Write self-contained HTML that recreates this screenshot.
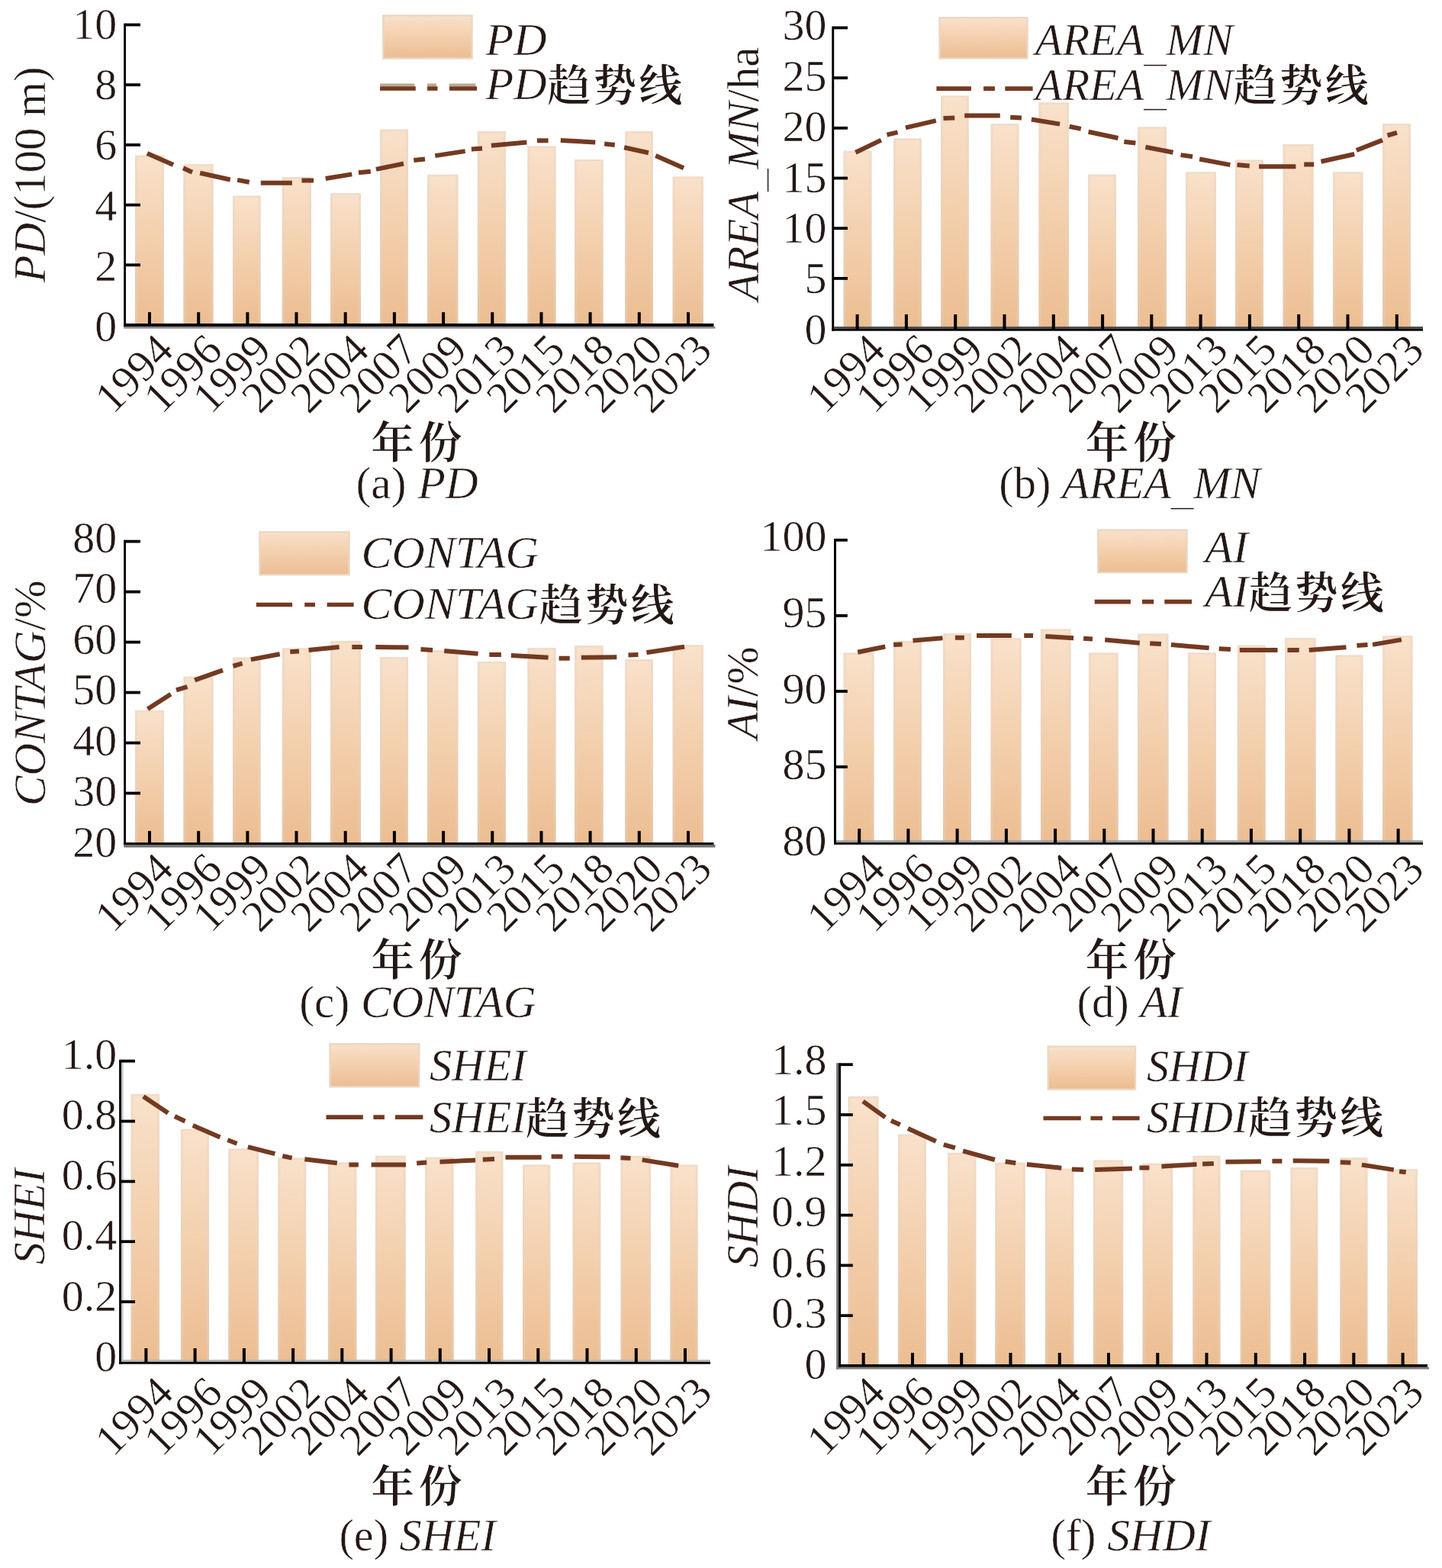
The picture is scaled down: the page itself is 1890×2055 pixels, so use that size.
<!DOCTYPE html>
<html lang="zh-CN"><head><meta charset="utf-8"><title>景观格局指数变化趋势</title>
<style>
html,body{margin:0;padding:0;background:#fff;}
body{width:1890px;height:2055px;overflow:hidden;}
svg{display:block;}
text{font-family:"Liberation Serif","Noto Serif CJK SC",serif;font-size:58px;fill:#231815;stroke:#fff;stroke-width:0.5px;stroke-linejoin:round;}
.it{font-style:italic;}
.us{font-size:30px;font-style:normal;stroke:none;}
.leg,.ytitle,.cap{font-size:60px;}
.cjk{font-family:"Noto Serif CJK SC","Liberation Serif",serif;font-weight:600;stroke:none;font-size:56.5px;font-style:normal;letter-spacing:3.5px;}
.cjk.xtitle{letter-spacing:6px;}
.ylab text{text-anchor:end;}
.xlab text{text-anchor:end;}
.ytitle,.xtitle,.cap{text-anchor:middle;}
.bo{fill:url(#barb);}
.bi{fill:url(#bar);}
.swatch{fill:url(#bar);stroke:#ead7c4;stroke-width:2.4;}
.axis rect{fill:#000000;}
.trend{fill:none;stroke:#733a21;stroke-width:6;stroke-linecap:butt;}
.trend.leg{stroke-width:5.7;}
.trend.fr{stroke:#b9a98f;stroke-width:3.6;}
</style></head><body>
<svg width="1890" height="2055" viewBox="0 0 1890 2055" role="img" aria-label="景观格局指数变化趋势">
<defs><linearGradient id="bar" x1="0" y1="0" x2="0" y2="1"><stop offset="0" stop-color="#f9e1ca"/><stop offset="0.5" stop-color="#f3cfac"/><stop offset="1" stop-color="#ecbd92"/></linearGradient><linearGradient id="barb" x1="0" y1="0" x2="0" y2="1"><stop offset="0" stop-color="#f1dcc9"/><stop offset="0.5" stop-color="#ecd2b8"/><stop offset="1" stop-color="#e6c5a4"/></linearGradient></defs>
<rect width="1890" height="2055" fill="#ffffff"/>
<g class="panel" id="panel-a">
<g class="bars">
<rect class="bo" x="177" y="203.4" width="38" height="221.6"/>
<rect class="bi" x="180.2" y="206" width="31.6" height="219"/>
<rect class="bo" x="240.3" y="215" width="39.4" height="210"/>
<rect class="bi" x="243.5" y="217.6" width="33" height="207.4"/>
<rect class="bo" x="305" y="256.4" width="36.7" height="168.6"/>
<rect class="bi" x="308.2" y="259" width="30.3" height="166"/>
<rect class="bo" x="369.7" y="232" width="38.3" height="193"/>
<rect class="bi" x="372.9" y="234.6" width="31.9" height="190.4"/>
<rect class="bo" x="433" y="253" width="40" height="172"/>
<rect class="bi" x="436.2" y="255.6" width="33.6" height="169.4"/>
<rect class="bo" x="498" y="169.4" width="37" height="255.6"/>
<rect class="bi" x="501.2" y="172" width="30.6" height="253"/>
<rect class="bo" x="560" y="228.6" width="40.6" height="196.4"/>
<rect class="bi" x="563.2" y="231.2" width="34.2" height="193.8"/>
<rect class="bo" x="625.8" y="172" width="37.2" height="253"/>
<rect class="bi" x="629" y="174.6" width="30.8" height="250.4"/>
<rect class="bo" x="691.3" y="191.4" width="37.4" height="233.6"/>
<rect class="bi" x="694.5" y="194" width="31" height="231"/>
<rect class="bo" x="753" y="209" width="37.8" height="216"/>
<rect class="bi" x="756.2" y="211.6" width="31.4" height="213.4"/>
<rect class="bo" x="819.2" y="172" width="36.8" height="253"/>
<rect class="bi" x="822.4" y="174.6" width="30.4" height="250.4"/>
<rect class="bo" x="881.5" y="231.2" width="40.5" height="193.8"/>
<rect class="bi" x="884.7" y="233.8" width="34.1" height="191.2"/>
</g>
<g class="axis">
<rect x="162.2" y="427.9" width="775.3" height="2.7" style="fill:#8a8a8a"/>
<rect x="162.2" y="30.6" width="2.8" height="397.3"/>
<rect x="162.2" y="424" width="773.3" height="3.9"/>
<rect x="164.5" y="345.4" width="19.5" height="3.8"/>
<rect x="164.5" y="266.7" width="19.5" height="3.8"/>
<rect x="164.5" y="188" width="19.5" height="3.8"/>
<rect x="164.5" y="109.3" width="19.5" height="3.8"/>
<rect x="164.5" y="30.6" width="19.5" height="3.8"/>
<rect x="194" y="409.2" width="4" height="15.3"/>
<rect x="258.2" y="409.2" width="4" height="15.3"/>
<rect x="322.4" y="409.2" width="4" height="15.3"/>
<rect x="386.5" y="409.2" width="4" height="15.3"/>
<rect x="450.7" y="409.2" width="4" height="15.3"/>
<rect x="514.9" y="409.2" width="4" height="15.3"/>
<rect x="579.1" y="409.2" width="4" height="15.3"/>
<rect x="643.3" y="409.2" width="4" height="15.3"/>
<rect x="707.5" y="409.2" width="4" height="15.3"/>
<rect x="771.6" y="409.2" width="4" height="15.3"/>
<rect x="835.8" y="409.2" width="4" height="15.3"/>
<rect x="900" y="409.2" width="4" height="15.3"/>
</g>
<path class="trend" d="M192.9 200.9L227.1 216 M240.1 220.3L252 225.8 M262.2 226.8L301.8 235.5 M311.1 235.9L326.7 238.7 M341.8 239.8L382.9 239.8 M395.5 236.6L411.1 236.6 M426.7 234L461.3 228.4 M470 226.2L485.8 224.7 M492.9 221.9L529 214.5 M542.3 210L557 208.4 M570.3 204.1L609.7 198.1 M617.9 195.5L632 194.4 M643.9 190.7L690.4 186.4 M703.9 184.2L718.6 184.2 M734.8 184L780.3 186.4 M792.2 188.5L805.8 190 M818.1 193.3L850 200.2 M859.3 204.1L896.1 220.3"/>
<g class="ylab">
<text x="153.3" y="447">0</text>
<text x="153.3" y="367.8">2</text>
<text x="153.3" y="288.6">4</text>
<text x="153.3" y="209.4">6</text>
<text x="153.3" y="130.2">8</text>
<text x="153.3" y="51">10</text>
</g>
<g class="xlab">
<text transform="translate(229.9 462) rotate(-45)">1994</text>
<text transform="translate(294.1 462) rotate(-45)">1996</text>
<text transform="translate(358.2 462) rotate(-45)">1999</text>
<text transform="translate(422.4 462) rotate(-45)">2002</text>
<text transform="translate(486.6 462) rotate(-45)">2004</text>
<text transform="translate(550.8 462) rotate(-45)">2007</text>
<text transform="translate(614.9 462) rotate(-45)">2009</text>
<text transform="translate(679.1 462) rotate(-45)">2013</text>
<text transform="translate(743.3 462) rotate(-45)">2015</text>
<text transform="translate(807.4 462) rotate(-45)">2018</text>
<text transform="translate(871.6 462) rotate(-45)">2020</text>
<text transform="translate(935.8 462) rotate(-45)">2023</text>
</g>
<text class="ytitle" transform="translate(59 229) rotate(-90) scale(0.9820 1)"><tspan class="it">PD</tspan><tspan>/(100 m)</tspan></text>
<text class="cjk xtitle" x="548.9" y="599.6">年份</text>
<text class="cap" x="546.6" y="653.4" xml:space="preserve"><tspan textLength="80.9" lengthAdjust="spacingAndGlyphs">(a) </tspan><tspan class="it" textLength="79.3" lengthAdjust="spacingAndGlyphs">PD</tspan></text>
<rect class="swatch" x="502.3" y="20.5" width="116.3" height="56"/>
<path class="trend fr" d="M498 111.4H543.3 M560 111.4H572 M589 111.4H623.5"/>
<path class="trend leg" d="M498 116H544.8 M560 116H573.5 M589 116H625"/>
<text class="leg" x="636.5" y="71.7"><tspan class="it" textLength="80" lengthAdjust="spacingAndGlyphs">PD</tspan></text>
<text class="leg" x="636.5" y="129.8"><tspan class="it" textLength="80" lengthAdjust="spacingAndGlyphs">PD</tspan><tspan class="cjk" dx="1" dy="1.8">趋势线</tspan></text>
</g>
<g class="panel" id="panel-b">
<g class="bars">
<rect class="bo" x="1105.5" y="197.6" width="37.1" height="234.2"/>
<rect class="bi" x="1108.7" y="200.2" width="30.7" height="231.6"/>
<rect class="bo" x="1171" y="181.2" width="37" height="250.6"/>
<rect class="bi" x="1174.2" y="183.8" width="30.6" height="248"/>
<rect class="bo" x="1233" y="125.3" width="36.9" height="306.5"/>
<rect class="bi" x="1236.2" y="127.9" width="30.5" height="303.9"/>
<rect class="bo" x="1298.4" y="162.1" width="37.2" height="269.7"/>
<rect class="bi" x="1301.6" y="164.7" width="30.8" height="267.1"/>
<rect class="bo" x="1361.3" y="134.2" width="39.7" height="297.6"/>
<rect class="bi" x="1364.5" y="136.8" width="33.3" height="295"/>
<rect class="bo" x="1426" y="228.5" width="37" height="203.3"/>
<rect class="bi" x="1429.2" y="231.1" width="30.6" height="200.7"/>
<rect class="bo" x="1491" y="166.3" width="38" height="265.5"/>
<rect class="bi" x="1494.2" y="168.9" width="31.6" height="262.9"/>
<rect class="bo" x="1554" y="225.3" width="40" height="206.5"/>
<rect class="bi" x="1557.2" y="227.9" width="33.6" height="203.9"/>
<rect class="bo" x="1619" y="209.4" width="37" height="222.4"/>
<rect class="bi" x="1622.2" y="212" width="30.6" height="219.8"/>
<rect class="bo" x="1681.4" y="189" width="40.3" height="242.8"/>
<rect class="bi" x="1684.6" y="191.6" width="33.9" height="240.2"/>
<rect class="bo" x="1747" y="225.3" width="39.6" height="206.5"/>
<rect class="bi" x="1750.2" y="227.9" width="33.2" height="203.9"/>
<rect class="bo" x="1812" y="162.1" width="37" height="269.7"/>
<rect class="bi" x="1815.2" y="164.7" width="30.6" height="267.1"/>
</g>
<g class="axis">
<rect x="1093.2" y="428" width="771.8" height="2.8" style="fill:#4d4d4d"/>
<rect x="1090.3" y="34.5" width="2.9" height="399.2"/>
<rect x="1090.3" y="430.8" width="774.7" height="2.9"/>
<rect x="1092.7" y="363" width="18.3" height="3.8"/>
<rect x="1092.7" y="297.3" width="18.3" height="3.8"/>
<rect x="1092.7" y="231.6" width="18.3" height="3.8"/>
<rect x="1092.7" y="165.9" width="18.3" height="3.8"/>
<rect x="1092.7" y="100.2" width="18.3" height="3.8"/>
<rect x="1092.7" y="34.5" width="18.3" height="3.8"/>
<rect x="1121.6" y="412" width="4" height="19.3"/>
<rect x="1185.9" y="412" width="4" height="19.3"/>
<rect x="1250.2" y="412" width="4" height="19.3"/>
<rect x="1314.5" y="412" width="4" height="19.3"/>
<rect x="1378.8" y="412" width="4" height="19.3"/>
<rect x="1443.1" y="412" width="4" height="19.3"/>
<rect x="1507.3" y="412" width="4" height="19.3"/>
<rect x="1571.6" y="412" width="4" height="19.3"/>
<rect x="1635.9" y="412" width="4" height="19.3"/>
<rect x="1700.2" y="412" width="4" height="19.3"/>
<rect x="1764.5" y="412" width="4" height="19.3"/>
<rect x="1828.8" y="412" width="4" height="19.3"/>
</g>
<path class="trend" d="M1121.4 199.8L1154.9 183.6 M1162.5 176.7L1176.6 173.4 M1187 167.4L1226.8 158.1 M1236.5 155L1251.3 154.4 M1264.2 151.6L1310.8 151.6 M1324.2 153.7L1338.9 154.4 M1351.9 156.5L1389.1 162.6 M1401.7 165.8L1416.8 168.9 M1426.6 172.8L1465.5 181 M1473.3 185.8L1488.4 187.5 M1501.4 192.7L1537.5 199.8 M1547.5 203.1L1563.1 205.2 M1572.2 208.5L1612.4 216.1 M1621.5 216.1L1637.7 217.6 M1650.1 218.2L1698.4 218.2 M1709.2 215.6L1722.2 215.6 M1731.5 211.7L1775.2 202 M1777.8 197L1812 183.6 M1818.5 177.5L1831 173.9"/>
<g class="ylab">
<text x="1083.6" y="450.8">0</text>
<text x="1083.6" y="384.4">5</text>
<text x="1083.6" y="318">10</text>
<text x="1083.6" y="251.6">15</text>
<text x="1083.6" y="185.1">20</text>
<text x="1083.6" y="118.7">25</text>
<text x="1083.6" y="52.3">30</text>
</g>
<g class="xlab">
<text transform="translate(1163.1 462) rotate(-45)">1994</text>
<text transform="translate(1227.3 462) rotate(-45)">1996</text>
<text transform="translate(1291.4 462) rotate(-45)">1999</text>
<text transform="translate(1355.6 462) rotate(-45)">2002</text>
<text transform="translate(1419.8 462) rotate(-45)">2004</text>
<text transform="translate(1483.9 462) rotate(-45)">2007</text>
<text transform="translate(1548.1 462) rotate(-45)">2009</text>
<text transform="translate(1612.3 462) rotate(-45)">2013</text>
<text transform="translate(1676.5 462) rotate(-45)">2015</text>
<text transform="translate(1740.6 462) rotate(-45)">2018</text>
<text transform="translate(1804.8 462) rotate(-45)">2020</text>
<text transform="translate(1869 462) rotate(-45)">2023</text>
</g>
<text class="ytitle" transform="translate(993.7 228) rotate(-90) scale(0.9788 1)"><tspan class="it">AREA</tspan><tspan class="us" dy="10.5" textLength="30" lengthAdjust="spacingAndGlyphs">_</tspan><tspan class="it" dy="-10.5">MN</tspan><tspan>/ha</tspan></text>
<text class="cjk xtitle" x="1485.2" y="599.6">年份</text>
<text class="cap" x="1480.7" y="653.1" xml:space="preserve"><tspan textLength="82.8" lengthAdjust="spacingAndGlyphs">(b) </tspan><tspan class="it" textLength="143" lengthAdjust="spacingAndGlyphs">AREA</tspan><tspan class="us" dy="10.5" textLength="29.2" lengthAdjust="spacingAndGlyphs">_</tspan><tspan class="it" dy="-10.5" textLength="87.8" lengthAdjust="spacingAndGlyphs">MN</tspan></text>
<rect class="swatch" x="1231.5" y="23.3" width="115" height="53.1"/>
<path class="trend leg" d="M1227.4 116.1H1272.9 M1289.1 116.1H1303.9 M1317.3 116.1H1353.6"/>
<text class="leg" x="1356.8" y="72.3"><tspan class="it" textLength="142.6" lengthAdjust="spacingAndGlyphs">AREA</tspan><tspan class="us" dy="10.5" textLength="29.2" lengthAdjust="spacingAndGlyphs">_</tspan><tspan class="it" dy="-10.5" textLength="87.5" lengthAdjust="spacingAndGlyphs">MN</tspan></text>
<text class="leg" x="1356.8" y="130.6"><tspan class="it" textLength="142.6" lengthAdjust="spacingAndGlyphs">AREA</tspan><tspan class="us" dy="10.5" textLength="29.2" lengthAdjust="spacingAndGlyphs">_</tspan><tspan class="it" dy="-10.5" textLength="87.5" lengthAdjust="spacingAndGlyphs">MN</tspan><tspan class="cjk" dx="1" dy="1.8">趋势线</tspan></text>
</g>
<g class="panel" id="panel-c">
<g class="bars">
<rect class="bo" x="177" y="930.9" width="38" height="174.3"/>
<rect class="bi" x="180.2" y="933.5" width="31.6" height="171.7"/>
<rect class="bo" x="240.3" y="886.6" width="39.4" height="218.6"/>
<rect class="bi" x="243.5" y="889.2" width="33" height="216"/>
<rect class="bo" x="305" y="861.4" width="36.7" height="243.8"/>
<rect class="bi" x="308.2" y="864" width="30.3" height="241.2"/>
<rect class="bo" x="369.7" y="849.3" width="38.3" height="255.9"/>
<rect class="bi" x="372.9" y="851.9" width="31.9" height="253.3"/>
<rect class="bo" x="433" y="839.9" width="40" height="265.3"/>
<rect class="bi" x="436.2" y="842.5" width="33.6" height="262.7"/>
<rect class="bo" x="498" y="861" width="37" height="244.2"/>
<rect class="bi" x="501.2" y="863.6" width="30.6" height="241.6"/>
<rect class="bo" x="560" y="852" width="40.6" height="253.2"/>
<rect class="bi" x="563.2" y="854.6" width="34.2" height="250.6"/>
<rect class="bo" x="625.8" y="867" width="37.2" height="238.2"/>
<rect class="bi" x="629" y="869.6" width="30.8" height="235.6"/>
<rect class="bo" x="691.3" y="849.1" width="37.4" height="256.1"/>
<rect class="bi" x="694.5" y="851.7" width="31" height="253.5"/>
<rect class="bo" x="753" y="846" width="37.8" height="259.2"/>
<rect class="bi" x="756.2" y="848.6" width="31.4" height="256.6"/>
<rect class="bo" x="819.2" y="864.1" width="36.8" height="241.1"/>
<rect class="bi" x="822.4" y="866.7" width="30.4" height="238.5"/>
<rect class="bo" x="881.5" y="845.2" width="40.5" height="260"/>
<rect class="bi" x="884.7" y="847.8" width="34.1" height="257.4"/>
</g>
<g class="axis">
<rect x="162.2" y="1107" width="775.3" height="3.6" style="fill:#707070"/>
<rect x="162.2" y="707.7" width="2.8" height="399.3"/>
<rect x="162.2" y="1104.2" width="773.3" height="2.8"/>
<rect x="164.5" y="1037.7" width="19.5" height="3.8"/>
<rect x="164.5" y="971.7" width="19.5" height="3.8"/>
<rect x="164.5" y="905.7" width="19.5" height="3.8"/>
<rect x="164.5" y="839.7" width="19.5" height="3.8"/>
<rect x="164.5" y="773.7" width="19.5" height="3.8"/>
<rect x="164.5" y="707.7" width="19.5" height="3.8"/>
<rect x="194" y="1089.1" width="4" height="15.6"/>
<rect x="258.2" y="1089.1" width="4" height="15.6"/>
<rect x="322.4" y="1089.1" width="4" height="15.6"/>
<rect x="386.5" y="1089.1" width="4" height="15.6"/>
<rect x="450.7" y="1089.1" width="4" height="15.6"/>
<rect x="514.9" y="1089.1" width="4" height="15.6"/>
<rect x="579.1" y="1089.1" width="4" height="15.6"/>
<rect x="643.3" y="1089.1" width="4" height="15.6"/>
<rect x="707.5" y="1089.1" width="4" height="15.6"/>
<rect x="771.6" y="1089.1" width="4" height="15.6"/>
<rect x="835.8" y="1089.1" width="4" height="15.6"/>
<rect x="900" y="1089.1" width="4" height="15.6"/>
</g>
<path class="trend" d="M193.5 929.3L223.9 909.8 M231 904.4L245.5 900.1 M255.2 891.4L292 878.4 M305.5 873L317.6 869.4 M328.8 864.4L366.7 857.2 M380.3 854.2L392 853.5 M404.6 852L444.6 848.1 M461.3 848.1L475 848.1 M492.3 848.1L535.5 848.6 M551.5 851L567.1 851.9 M582.2 853L626.6 856.7 M641.3 858L656.9 858 M669.9 858.9L718.6 861.7 M732.6 862.8L746.7 862.8 M761.9 861.7L808.4 861.3 M823.5 858.4L836.5 858 M847.4 855.2L897.1 847.6"/>
<g class="ylab">
<text x="153.3" y="1122.7">20</text>
<text x="153.3" y="1056.2">30</text>
<text x="153.3" y="989.7">40</text>
<text x="153.3" y="923.2">50</text>
<text x="153.3" y="856.7">60</text>
<text x="153.3" y="790.2">70</text>
<text x="153.3" y="723.7">80</text>
</g>
<g class="xlab">
<text transform="translate(229.9 1142) rotate(-45)">1994</text>
<text transform="translate(294.1 1142) rotate(-45)">1996</text>
<text transform="translate(358.2 1142) rotate(-45)">1999</text>
<text transform="translate(422.4 1142) rotate(-45)">2002</text>
<text transform="translate(486.6 1142) rotate(-45)">2004</text>
<text transform="translate(550.8 1142) rotate(-45)">2007</text>
<text transform="translate(614.9 1142) rotate(-45)">2009</text>
<text transform="translate(679.1 1142) rotate(-45)">2013</text>
<text transform="translate(743.3 1142) rotate(-45)">2015</text>
<text transform="translate(807.4 1142) rotate(-45)">2018</text>
<text transform="translate(871.6 1142) rotate(-45)">2020</text>
<text transform="translate(935.8 1142) rotate(-45)">2023</text>
</g>
<text class="ytitle" transform="translate(59.1 908.4) rotate(-90) scale(0.9900 1)"><tspan class="it">CONTAG</tspan><tspan>/%</tspan></text>
<text class="cjk xtitle" x="548.9" y="1278.4">年份</text>
<text class="cap" x="547.5" y="1333.4" xml:space="preserve"><tspan textLength="80.7" lengthAdjust="spacingAndGlyphs">(c) </tspan><tspan class="it" textLength="229.7" lengthAdjust="spacingAndGlyphs">CONTAG</tspan></text>
<rect class="swatch" x="340.4" y="697.4" width="117.2" height="55.8"/>
<path class="trend leg" d="M335.8 792.5H383.1 M399.2 792.5H413 M428.6 792.5H463.6"/>
<text class="leg" x="473.6" y="744.4"><tspan class="it" textLength="232.3" lengthAdjust="spacingAndGlyphs">CONTAG</tspan></text>
<text class="leg" x="473.6" y="811.2"><tspan class="it" textLength="232.3" lengthAdjust="spacingAndGlyphs">CONTAG</tspan><tspan class="cjk" dx="1" dy="1.8">趋势线</tspan></text>
</g>
<g class="panel" id="panel-d">
<g class="bars">
<rect class="bo" x="1105.5" y="855.3" width="40.2" height="249.9"/>
<rect class="bi" x="1108.7" y="857.9" width="33.8" height="247.3"/>
<rect class="bo" x="1171" y="839.9" width="37" height="265.3"/>
<rect class="bi" x="1174.2" y="842.5" width="30.6" height="262.7"/>
<rect class="bo" x="1236" y="830.1" width="37" height="275.1"/>
<rect class="bi" x="1239.2" y="832.7" width="30.6" height="272.5"/>
<rect class="bo" x="1298.4" y="836.3" width="40.3" height="268.9"/>
<rect class="bi" x="1301.6" y="838.9" width="33.9" height="266.3"/>
<rect class="bo" x="1363.9" y="824.3" width="39.7" height="280.9"/>
<rect class="bi" x="1367.1" y="826.9" width="33.3" height="278.3"/>
<rect class="bo" x="1426.9" y="855.3" width="38.9" height="249.9"/>
<rect class="bi" x="1430.1" y="857.9" width="32.5" height="247.3"/>
<rect class="bo" x="1491" y="830.5" width="40.6" height="274.7"/>
<rect class="bi" x="1494.2" y="833.1" width="34.2" height="272.1"/>
<rect class="bo" x="1556.8" y="855.2" width="37.2" height="250"/>
<rect class="bi" x="1560" y="857.8" width="30.8" height="247.4"/>
<rect class="bo" x="1621.7" y="845.5" width="37.1" height="259.7"/>
<rect class="bi" x="1624.9" y="848.1" width="30.7" height="257.1"/>
<rect class="bo" x="1684" y="836" width="40.8" height="269.2"/>
<rect class="bi" x="1687.2" y="838.6" width="34.4" height="266.6"/>
<rect class="bo" x="1750.3" y="858.4" width="36.3" height="246.8"/>
<rect class="bi" x="1753.5" y="861" width="29.9" height="244.2"/>
<rect class="bo" x="1812" y="833.1" width="39.6" height="272.1"/>
<rect class="bi" x="1815.2" y="835.7" width="33.2" height="269.5"/>
</g>
<g class="axis">
<rect x="1096" y="1101.3" width="769" height="2.9" style="fill:#a0a0a0"/>
<rect x="1093" y="706" width="3" height="400.9"/>
<rect x="1093" y="1104.2" width="772" height="2.7"/>
<rect x="1095.5" y="1003.2" width="15.3" height="3.8"/>
<rect x="1095.5" y="904.1" width="15.3" height="3.8"/>
<rect x="1095.5" y="805" width="15.3" height="3.8"/>
<rect x="1095.5" y="705.9" width="15.3" height="3.8"/>
<rect x="1124.2" y="1086.1" width="4" height="18.6"/>
<rect x="1188.4" y="1086.1" width="4" height="18.6"/>
<rect x="1252.6" y="1086.1" width="4" height="18.6"/>
<rect x="1316.9" y="1086.1" width="4" height="18.6"/>
<rect x="1381.1" y="1086.1" width="4" height="18.6"/>
<rect x="1445.3" y="1086.1" width="4" height="18.6"/>
<rect x="1509.5" y="1086.1" width="4" height="18.6"/>
<rect x="1573.7" y="1086.1" width="4" height="18.6"/>
<rect x="1637.9" y="1086.1" width="4" height="18.6"/>
<rect x="1702.2" y="1086.1" width="4" height="18.6"/>
<rect x="1766.4" y="1086.1" width="4" height="18.6"/>
<rect x="1830.6" y="1086.1" width="4" height="18.6"/>
</g>
<path class="trend" d="M1124.2 854.7L1160.3 847.5 M1171.2 844.9L1182.6 844.5 M1196.5 839.5L1235.5 836.3 M1251.9 835.8L1263.8 835.8 M1280 833L1325.9 833 M1342.2 833L1354.1 833 M1370.3 834.1L1407.1 836.3 M1420.1 836.7L1432 837.4 M1448.2 838.4L1493.8 842.8 M1507.2 843.2L1521.9 843.9 M1534.9 844.9L1584.7 849.3 M1597.7 850.3L1612.9 851 M1624.8 851.9L1674.5 851.9 M1687.5 851.9L1702.7 851.9 M1715.7 851.9L1764.4 848.2 M1778.4 846L1792.5 844.9 M1799 844.9L1836.9 838.4"/>
<g class="ylab">
<text x="1083.4" y="1120.9">80</text>
<text x="1083.4" y="1021.2">85</text>
<text x="1083.4" y="921.5">90</text>
<text x="1083.4" y="821.7">95</text>
<text x="1083.4" y="722">100</text>
</g>
<g class="xlab">
<text transform="translate(1163.1 1142.4) rotate(-45)">1994</text>
<text transform="translate(1227.3 1142.4) rotate(-45)">1996</text>
<text transform="translate(1291.4 1142.4) rotate(-45)">1999</text>
<text transform="translate(1355.6 1142.4) rotate(-45)">2002</text>
<text transform="translate(1419.8 1142.4) rotate(-45)">2004</text>
<text transform="translate(1483.9 1142.4) rotate(-45)">2007</text>
<text transform="translate(1548.1 1142.4) rotate(-45)">2009</text>
<text transform="translate(1612.3 1142.4) rotate(-45)">2013</text>
<text transform="translate(1676.5 1142.4) rotate(-45)">2015</text>
<text transform="translate(1740.6 1142.4) rotate(-45)">2018</text>
<text transform="translate(1804.8 1142.4) rotate(-45)">2020</text>
<text transform="translate(1869 1142.4) rotate(-45)">2023</text>
</g>
<text class="ytitle" transform="translate(993.4 908.2) rotate(-90) scale(0.9863 1)"><tspan class="it">AI</tspan><tspan>/%</tspan></text>
<text class="cjk xtitle" x="1485.2" y="1278.4">年份</text>
<text class="cap" x="1480.6" y="1333.4" xml:space="preserve"><tspan textLength="82.8" lengthAdjust="spacingAndGlyphs">(d) </tspan><tspan class="it" textLength="55.2" lengthAdjust="spacingAndGlyphs">AI</tspan></text>
<rect class="swatch" x="1439.2" y="694.7" width="116.4" height="55.5"/>
<path class="trend leg" d="M1434.7 788.7H1481.9 M1497 788.7H1512.2 M1526.3 788.7H1562"/>
<text class="leg" x="1579.3" y="736.7"><tspan class="it" textLength="56.6" lengthAdjust="spacingAndGlyphs">AI</tspan></text>
<text class="leg" x="1579.3" y="794.8"><tspan class="it" textLength="56.6" lengthAdjust="spacingAndGlyphs">AI</tspan><tspan class="cjk" dx="1" dy="1.8">趋势线</tspan></text>
</g>
<g class="panel" id="panel-e">
<g class="bars">
<rect class="bo" x="171.4" y="1433.7" width="37.7" height="352.1"/>
<rect class="bi" x="174.6" y="1436.3" width="31.3" height="349.5"/>
<rect class="bo" x="236.9" y="1479.6" width="37.1" height="306.2"/>
<rect class="bi" x="240.1" y="1482.2" width="30.7" height="303.6"/>
<rect class="bo" x="299.2" y="1505.3" width="39.8" height="280.5"/>
<rect class="bi" x="302.4" y="1507.9" width="33.4" height="277.9"/>
<rect class="bo" x="364.2" y="1517.4" width="37.1" height="268.4"/>
<rect class="bi" x="367.4" y="1520" width="30.7" height="265.8"/>
<rect class="bo" x="429.9" y="1523.3" width="37.6" height="262.5"/>
<rect class="bi" x="433.1" y="1525.9" width="31.2" height="259.9"/>
<rect class="bo" x="492" y="1514.6" width="39.8" height="271.2"/>
<rect class="bi" x="495.2" y="1517.2" width="33.4" height="268.6"/>
<rect class="bo" x="557" y="1516.6" width="37.7" height="269.2"/>
<rect class="bi" x="560.2" y="1519.2" width="31.3" height="266.6"/>
<rect class="bo" x="623.2" y="1508.7" width="36.4" height="277.1"/>
<rect class="bi" x="626.4" y="1511.3" width="30" height="274.5"/>
<rect class="bo" x="685" y="1526.4" width="36.4" height="259.4"/>
<rect class="bi" x="688.2" y="1529" width="30" height="256.8"/>
<rect class="bo" x="750.5" y="1523.4" width="36.9" height="262.4"/>
<rect class="bi" x="753.7" y="1526" width="30.5" height="259.8"/>
<rect class="bo" x="813.4" y="1514.8" width="39.6" height="271"/>
<rect class="bi" x="816.6" y="1517.4" width="33.2" height="268.4"/>
<rect class="bo" x="878.3" y="1526.4" width="36.4" height="259.4"/>
<rect class="bi" x="881.5" y="1529" width="30" height="256.8"/>
</g>
<g class="axis">
<rect x="159" y="1388.8" width="2.6" height="398.9" style="fill:#c2c5c8"/>
<rect x="159" y="1782" width="772" height="2.8" style="fill:#b8b8b8"/>
<rect x="156.1" y="1388.8" width="2.9" height="398.9"/>
<rect x="156.1" y="1784.8" width="774.9" height="2.9"/>
<rect x="158.5" y="1704.2" width="18.5" height="3.8"/>
<rect x="158.5" y="1625.3" width="18.5" height="3.8"/>
<rect x="158.5" y="1546.5" width="18.5" height="3.8"/>
<rect x="158.5" y="1467.6" width="18.5" height="3.8"/>
<rect x="158.5" y="1388.7" width="18.5" height="3.8"/>
<rect x="189.4" y="1767" width="4" height="18.3"/>
<rect x="253.6" y="1767" width="4" height="18.3"/>
<rect x="317.9" y="1767" width="4" height="18.3"/>
<rect x="382.1" y="1767" width="4" height="18.3"/>
<rect x="446.3" y="1767" width="4" height="18.3"/>
<rect x="510.6" y="1767" width="4" height="18.3"/>
<rect x="574.8" y="1767" width="4" height="18.3"/>
<rect x="639.1" y="1767" width="4" height="18.3"/>
<rect x="703.3" y="1767" width="4" height="18.3"/>
<rect x="767.5" y="1767" width="4" height="18.3"/>
<rect x="831.8" y="1767" width="4" height="18.3"/>
<rect x="896" y="1767" width="4" height="18.3"/>
</g>
<path class="trend" d="M187.9 1437.1L220.3 1458.7 M229 1463L242.6 1469.5 M252.8 1474.9L288.5 1490.5 M298.3 1494L310.6 1498.7 M324.9 1503.1L360.4 1512.2 M370.3 1515L382.7 1517.6 M399.4 1519.3L441.8 1524.3 M457.4 1526.5L469.9 1526.5 M486.6 1526.5L532 1526.5 M546.2 1524.5L559.2 1523.6 M576.5 1522.7L623.1 1520.5 M632.8 1519.7L648 1519 M662.5 1516.8L709.7 1516.8 M722.6 1515.8L737.4 1515.8 M752.9 1515.8L799.5 1516.2 M813.5 1517.3L826.5 1517.9 M841.7 1520.1L889.3 1527.7"/>
<g class="ylab">
<text x="153.3" y="1796.9">0</text>
<text x="153.3" y="1717.7">0.2</text>
<text x="153.3" y="1638.4">0.4</text>
<text x="153.3" y="1559.2">0.6</text>
<text x="153.3" y="1479.9">0.8</text>
<text x="153.3" y="1400.7">1.0</text>
</g>
<g class="xlab">
<text transform="translate(230.1 1828.5) rotate(-45)">1994</text>
<text transform="translate(294.3 1828.5) rotate(-45)">1996</text>
<text transform="translate(358.4 1828.5) rotate(-45)">1999</text>
<text transform="translate(422.6 1828.5) rotate(-45)">2002</text>
<text transform="translate(486.8 1828.5) rotate(-45)">2004</text>
<text transform="translate(551 1828.5) rotate(-45)">2007</text>
<text transform="translate(615.1 1828.5) rotate(-45)">2009</text>
<text transform="translate(679.3 1828.5) rotate(-45)">2013</text>
<text transform="translate(743.5 1828.5) rotate(-45)">2015</text>
<text transform="translate(807.6 1828.5) rotate(-45)">2018</text>
<text transform="translate(871.8 1828.5) rotate(-45)">2020</text>
<text transform="translate(936 1828.5) rotate(-45)">2023</text>
</g>
<text class="ytitle" transform="translate(58 1594.3) rotate(-90) scale(0.9676 1)"><tspan class="it">SHEI</tspan></text>
<text class="cjk xtitle" x="548.9" y="1968.2">年份</text>
<text class="cap" x="547.1" y="2032" xml:space="preserve"><tspan textLength="79.2" lengthAdjust="spacingAndGlyphs">(e) </tspan><tspan class="it" textLength="126.2" lengthAdjust="spacingAndGlyphs">SHEI</tspan></text>
<rect class="swatch" x="432.4" y="1368.2" width="116.9" height="56.1"/>
<path class="trend leg" d="M427.5 1464.1H475.8 M489.4 1464.1H503.9 M518 1464.1H554.4"/>
<text class="leg" x="563" y="1416.3"><tspan class="it" textLength="126.8" lengthAdjust="spacingAndGlyphs">SHEI</tspan></text>
<text class="leg" x="563" y="1484"><tspan class="it" textLength="126.8" lengthAdjust="spacingAndGlyphs">SHEI</tspan><tspan class="cjk" dx="-0.5" dy="1.8">趋势线</tspan></text>
</g>
<g class="panel" id="panel-f">
<g class="bars">
<rect class="bo" x="1111.4" y="1436.7" width="40.3" height="352.4"/>
<rect class="bi" x="1114.6" y="1439.3" width="33.9" height="349.8"/>
<rect class="bo" x="1176.9" y="1486.5" width="37.1" height="302.6"/>
<rect class="bi" x="1180.1" y="1489.1" width="30.7" height="300"/>
<rect class="bo" x="1242" y="1510.7" width="37.5" height="278.4"/>
<rect class="bi" x="1245.2" y="1513.3" width="31.1" height="275.8"/>
<rect class="bo" x="1304.2" y="1523.5" width="39.7" height="265.6"/>
<rect class="bi" x="1307.4" y="1526.1" width="33.3" height="263"/>
<rect class="bo" x="1369.9" y="1531.4" width="37.6" height="257.7"/>
<rect class="bi" x="1373.1" y="1534" width="31.2" height="255.1"/>
<rect class="bo" x="1432.9" y="1520.4" width="39.4" height="268.7"/>
<rect class="bi" x="1436.1" y="1523" width="33" height="266.1"/>
<rect class="bo" x="1497.5" y="1524.5" width="39.8" height="264.6"/>
<rect class="bi" x="1500.7" y="1527.1" width="33.4" height="262"/>
<rect class="bo" x="1563.2" y="1514.6" width="36.4" height="274.5"/>
<rect class="bi" x="1566.4" y="1517.2" width="30" height="271.9"/>
<rect class="bo" x="1625.6" y="1533.5" width="39.7" height="255.6"/>
<rect class="bi" x="1628.8" y="1536.1" width="33.3" height="253"/>
<rect class="bo" x="1691.3" y="1530" width="36.1" height="259.1"/>
<rect class="bi" x="1694.5" y="1532.6" width="29.7" height="256.5"/>
<rect class="bo" x="1756.2" y="1517.2" width="36.4" height="271.9"/>
<rect class="bi" x="1759.4" y="1519.8" width="30" height="269.3"/>
<rect class="bo" x="1818.3" y="1532.2" width="39.7" height="256.9"/>
<rect class="bi" x="1821.5" y="1534.8" width="33.3" height="254.3"/>
</g>
<g class="axis">
<rect x="1096.2" y="1393.2" width="2.9" height="401.3" style="fill:#6e6e6e"/>
<rect x="1096.2" y="1791.7" width="776.8" height="2.8" style="fill:#808080"/>
<rect x="1099.1" y="1393.2" width="2.9" height="398.5"/>
<rect x="1099.1" y="1788.1" width="771.9" height="3.6"/>
<rect x="1101.5" y="1722.3" width="16.3" height="3.8"/>
<rect x="1101.5" y="1656.5" width="16.3" height="3.8"/>
<rect x="1101.5" y="1590.7" width="16.3" height="3.8"/>
<rect x="1101.5" y="1524.9" width="16.3" height="3.8"/>
<rect x="1101.5" y="1459.1" width="16.3" height="3.8"/>
<rect x="1101.5" y="1393.3" width="16.3" height="3.8"/>
<rect x="1129.7" y="1773" width="4" height="15.6"/>
<rect x="1194" y="1773" width="4" height="15.6"/>
<rect x="1258.2" y="1773" width="4" height="15.6"/>
<rect x="1322.5" y="1773" width="4" height="15.6"/>
<rect x="1386.8" y="1773" width="4" height="15.6"/>
<rect x="1451" y="1773" width="4" height="15.6"/>
<rect x="1515.3" y="1773" width="4" height="15.6"/>
<rect x="1579.5" y="1773" width="4" height="15.6"/>
<rect x="1643.8" y="1773" width="4" height="15.6"/>
<rect x="1708.1" y="1773" width="4" height="15.6"/>
<rect x="1772.3" y="1773" width="4" height="15.6"/>
<rect x="1836.6" y="1773" width="4" height="15.6"/>
</g>
<path class="trend" d="M1131.1 1443.4L1160.3 1464.4 M1167.9 1468.7L1179.8 1474.1 M1190 1478.9L1226.8 1495.8 M1236.8 1500.1L1251.9 1504.4 M1262.1 1508.3L1303.9 1520 M1317.7 1522.2L1331.3 1524.3 M1345.8 1526.1L1391.3 1530.8 M1404.9 1532.6L1420.1 1533 M1435.2 1533L1483.9 1531.5 M1493.4 1530.5L1506.4 1530.5 M1522.4 1528.7L1568.5 1526.1 M1576.1 1525.5L1590.8 1525.1 M1606.4 1522.7L1652.9 1522.3 M1667.4 1521.8L1680.4 1521.8 M1694.7 1521.2L1742.3 1521.8 M1756.8 1523.3L1770.4 1523.8 M1784.9 1526.6L1826.7 1533.1 M1834.1 1535.2L1842.7 1536.3"/>
<g class="ylab">
<text x="1083.4" y="1806.9">0</text>
<text x="1083.4" y="1740.4">0.3</text>
<text x="1083.4" y="1673.9">0.6</text>
<text x="1083.4" y="1607.4">0.9</text>
<text x="1083.4" y="1540.9">1.2</text>
<text x="1083.4" y="1474.4">1.5</text>
<text x="1083.4" y="1407.9">1.8</text>
</g>
<g class="xlab">
<text transform="translate(1163.1 1828.5) rotate(-45)">1994</text>
<text transform="translate(1227.3 1828.5) rotate(-45)">1996</text>
<text transform="translate(1291.4 1828.5) rotate(-45)">1999</text>
<text transform="translate(1355.6 1828.5) rotate(-45)">2002</text>
<text transform="translate(1419.8 1828.5) rotate(-45)">2004</text>
<text transform="translate(1483.9 1828.5) rotate(-45)">2007</text>
<text transform="translate(1548.1 1828.5) rotate(-45)">2009</text>
<text transform="translate(1612.3 1828.5) rotate(-45)">2013</text>
<text transform="translate(1676.5 1828.5) rotate(-45)">2015</text>
<text transform="translate(1740.6 1828.5) rotate(-45)">2018</text>
<text transform="translate(1804.8 1828.5) rotate(-45)">2020</text>
<text transform="translate(1869 1828.5) rotate(-45)">2023</text>
</g>
<text class="ytitle" transform="translate(993.4 1594.9) rotate(-90) scale(0.9720 1)"><tspan class="it">SHDI</tspan></text>
<text class="cjk xtitle" x="1485.2" y="1968.2">年份</text>
<text class="cap" x="1481.9" y="2032" xml:space="preserve"><tspan textLength="74.2" lengthAdjust="spacingAndGlyphs">(f) </tspan><tspan class="it" textLength="135.3" lengthAdjust="spacingAndGlyphs">SHDI</tspan></text>
<rect class="swatch" x="1373.7" y="1371.6" width="114.3" height="56"/>
<path class="trend leg" d="M1367.5 1465.5H1416.8 M1429.4 1465.5H1445 M1458 1465.5H1493.6"/>
<text class="leg" x="1503" y="1417.1"><tspan class="it" textLength="132.5" lengthAdjust="spacingAndGlyphs">SHDI</tspan></text>
<text class="leg" x="1503" y="1483.8"><tspan class="it" textLength="132.5" lengthAdjust="spacingAndGlyphs">SHDI</tspan><tspan class="cjk" dx="1" dy="1">趋势线</tspan></text>
</g>
</svg></body></html>
